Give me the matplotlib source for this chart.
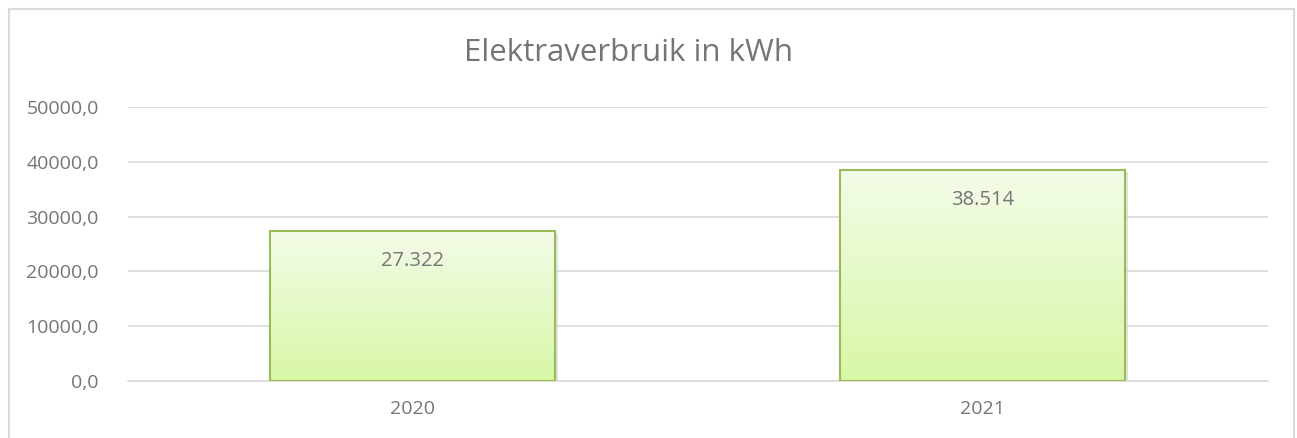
import numpy as np
import matplotlib
matplotlib.use("Agg")
import matplotlib.pyplot as plt
from matplotlib.patches import Rectangle
from matplotlib.colors import LinearSegmentedColormap

plt.rcParams['font.family'] = ['Open Sans', 'DejaVu Sans']

# Data
jaren = ['2020', '2021']
verbruik = [27322, 38514]
labels = ['27.322', '38.514']
yticks = [0, 10000, 20000, 30000, 40000, 50000]

tekst = '#757575'

fig = plt.figure(figsize=(12.97, 4.38), dpi=100)
ax = fig.add_axes([0.0987, 0.1301, 0.8787, 0.6256])

x = np.arange(len(jaren))
bars = ax.bar(x, verbruik, width=0.5, color='none', edgecolor='#9BBB59', linewidth=1.5, zorder=3)

# gradient fill for each bar
cmap = LinearSegmentedColormap.from_list('grn', ['#D8F7A6', '#F3FCE8'])
grad = np.linspace(0, 1, 256).reshape(-1, 1)
for b in bars:
    x0, w, h = b.get_x(), b.get_width(), b.get_height()
    im = ax.imshow(grad, extent=[x0, x0 + w, 0, h], origin='lower', cmap=cmap,
                   aspect='auto', zorder=2)
    im.set_clip_path(b)
    # light shadow
    ax.add_patch(Rectangle((x0 + 0.004, -300), w, h, facecolor='#D0D0D0',
                           edgecolor='none', alpha=0.6, zorder=1))

for b, lab in zip(bars, labels):
    ax.text(b.get_x() + b.get_width() / 2, b.get_height() - 5500, lab,
            ha='center', va='center', fontsize=14.5, color=tekst, zorder=4)

ax.set_xlim(-0.5, 1.5)
ax.set_ylim(0, 50000)
ax.set_xticks(x)
ax.set_xticklabels(jaren)
ax.set_yticks(yticks)
ax.set_yticklabels([f'{v},0' for v in yticks])
ax.tick_params(length=0, labelsize=14, colors=tekst)
ax.tick_params(axis='y', pad=21)
ax.tick_params(axis='x', pad=14)
ax.grid(axis='y', color='#D9D9D9', linewidth=1.2, zorder=0)
ax.set_axisbelow(True)
for s in ['top', 'right', 'left']:
    ax.spines[s].set_visible(False)
ax.spines['bottom'].set_color('#D9D9D9')
ax.spines['bottom'].set_linewidth(1.2)

fig.text(628 / 1297, 0.879, 'Elektraverbruik in kWh', ha='center', va='center',
         fontsize=22.5, color=tekst)

# chart border
fig.patches.append(Rectangle((9 / 1297, -0.1), 1285 / 1297, 1.1 - 9 / 438,
                             transform=fig.transFigure, fill=False,
                             edgecolor='#D9D9D9', linewidth=1.5))

fig.savefig('out.png', dpi=100)
